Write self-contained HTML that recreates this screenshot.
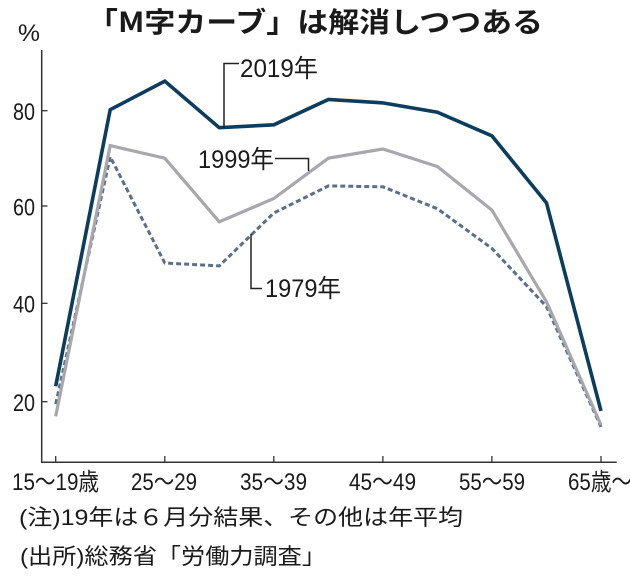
<!DOCTYPE html>
<html>
<head>
<meta charset="utf-8">
<style>
  html, body { margin: 0; padding: 0; background: #ffffff; }
  svg { display: block; }
  .t { font-family: "Liberation Sans", "Noto Sans CJK JP", sans-serif; fill: #1a1a1a; }
</style>
</head>
<body>
<svg width="630" height="579" viewBox="0 0 630 579" xmlns="http://www.w3.org/2000/svg">
  <rect x="0" y="0" width="630" height="579" fill="#ffffff"/>

  <!-- Title -->
  <text class="t" x="87" y="32" font-size="28" font-weight="bold" textLength="456" lengthAdjust="spacingAndGlyphs" style="font-family:'Noto Sans CJK JP','Liberation Sans',sans-serif;">「M字カーブ」は解消しつつある</text>

  <!-- % -->
  <text class="t" x="18" y="41" font-size="24" textLength="22" lengthAdjust="spacingAndGlyphs">%</text>

  <!-- Axes -->
  <line x1="41.7" y1="50" x2="41.7" y2="462.3" stroke="#333" stroke-width="1.5"/>
  <line x1="41" y1="462.3" x2="616.7" y2="462.3" stroke="#333" stroke-width="1.5"/>

  <!-- Y ticks -->
  <g stroke="#333" stroke-width="1.3">
    <line x1="41.7" y1="110.7" x2="47.5" y2="110.7"/>
    <line x1="41.7" y1="206" x2="47.5" y2="206"/>
    <line x1="41.7" y1="303.3" x2="47.5" y2="303.3"/>
    <line x1="41.7" y1="401.7" x2="47.5" y2="401.7"/>
  </g>
  <g class="t" font-size="24">
    <text x="13" y="120" textLength="22" lengthAdjust="spacingAndGlyphs">80</text>
    <text x="13" y="215.3" textLength="22" lengthAdjust="spacingAndGlyphs">60</text>
    <text x="13" y="312.6" textLength="22" lengthAdjust="spacingAndGlyphs">40</text>
    <text x="13" y="411" textLength="22" lengthAdjust="spacingAndGlyphs">20</text>
  </g>

  <!-- X ticks -->
  <g stroke="#333" stroke-width="1.3">
    <line x1="55.7" y1="456" x2="55.7" y2="462.3"/>
    <line x1="164.8" y1="456" x2="164.8" y2="462.3"/>
    <line x1="273.8" y1="456" x2="273.8" y2="462.3"/>
    <line x1="382.9" y1="456" x2="382.9" y2="462.3"/>
    <line x1="491.9" y1="456" x2="491.9" y2="462.3"/>
    <line x1="601" y1="456" x2="601" y2="462.3"/>
  </g>
  <g class="t" font-size="24">
    <text x="12" y="490" textLength="87" lengthAdjust="spacingAndGlyphs">15～19歳</text>
    <text x="131" y="490" textLength="66" lengthAdjust="spacingAndGlyphs">25～29</text>
    <text x="240" y="490" textLength="67" lengthAdjust="spacingAndGlyphs">35～39</text>
    <text x="349" y="490" textLength="67" lengthAdjust="spacingAndGlyphs">45～49</text>
    <text x="459" y="490" textLength="66" lengthAdjust="spacingAndGlyphs">55～59</text>
    <text x="568" y="490" textLength="64" lengthAdjust="spacingAndGlyphs">65歳～</text>
  </g>

  <!-- Series 1979 (dashed) -->
  <polyline fill="none" stroke="#5b6f88" stroke-width="3" stroke-dasharray="5,3" stroke-linejoin="round"
    points="55.7,404.1 110.2,156.8 164.8,263 219.3,265.9 273.8,213 328.4,185.9 382.9,186.8 437.4,208.7 491.9,248.4 546.5,306.6 601,426.9"/>

  <!-- Series 1999 (gray) -->
  <polyline fill="none" stroke="#a8a8ac" stroke-width="3.2" stroke-linejoin="miter"
    points="55.7,416.3 110.2,145.6 164.8,158.2 219.3,221.8 273.8,198.5 328.4,158.2 382.9,149 437.4,166.5 491.9,210.1 546.5,301.8 601,425"/>

  <!-- Series 2019 (navy) -->
  <polyline fill="none" stroke="#0c3d5c" stroke-width="3.6" stroke-linejoin="miter"
    points="55.7,386.2 110.2,109.7 164.8,81.1 219.3,127.7 273.8,124.8 328.4,99.5 382.9,102.9 437.4,112.2 491.9,135.9 546.5,202.9 601,410.9"/>

  <!-- Leaders -->
  <polyline fill="none" stroke="#222" stroke-width="1.5" points="224,128 224,63.5 239,63.5"/>
  <polyline fill="none" stroke="#222" stroke-width="1.5" points="275,158.5 308.5,158.5 308.5,171"/>
  <polyline fill="none" stroke="#222" stroke-width="1.5" points="251,234 251,288.5 262,288.5"/>

  <!-- Series labels -->
  <g class="t" font-size="25">
    <text x="240" y="77" textLength="78" lengthAdjust="spacingAndGlyphs">2019年</text>
    <text x="198" y="168" textLength="76" lengthAdjust="spacingAndGlyphs">1999年</text>
    <text x="265" y="297" textLength="76" lengthAdjust="spacingAndGlyphs">1979年</text>
  </g>

  <!-- Notes -->
  <g class="t" font-size="22">
    <text x="19" y="525" textLength="444" lengthAdjust="spacingAndGlyphs">(注)19年は６月分結果、その他は年平均</text>
    <text x="20" y="564" textLength="306" lengthAdjust="spacingAndGlyphs">(出所)総務省「労働力調査」</text>
  </g>
</svg>
</body>
</html>
